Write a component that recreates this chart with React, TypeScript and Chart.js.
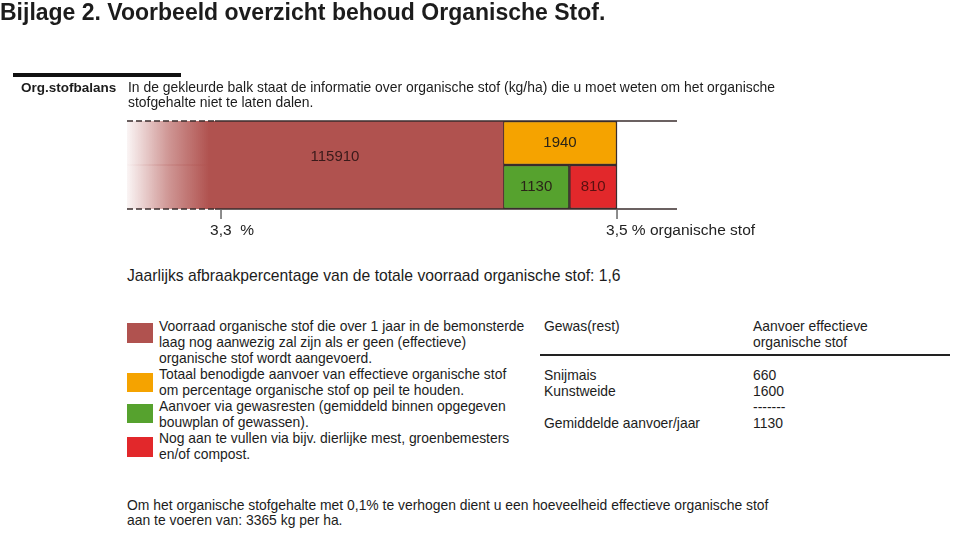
import React, { useEffect, useRef } from 'react';
import { Chart, registerables } from 'chart.js';

Chart.register(...registerables);

// ---- data ----
const rows = ['boven', 'onder'];
const voorraad = 115910; // kg/ha voorraad na 1 jaar
const benodigd = 1940; // totaal benodigde aanvoer
const gewasresten = 1130; // aanvoer via gewasresten
const aanvullen = 810; // nog aan te vullen
const percentTicks = [3.3, 3.5];
const tickLabels = ['3,3  %', '3,5 % organische stof'];
const afbraak = '1,6';
const gewassen = ['Snijmais', 'Kunstweide'];
const gewasAanvoer = [660, 1600];
const verhoging = 3365;

const legendTexts = [
  ['Voorraad organische stof die over 1 jaar in de bemonsterde', 'laag nog aanwezig zal zijn als er geen (effectieve)', 'organische stof wordt aangevoerd.'],
  ['Totaal benodigde aanvoer van effectieve organische stof', 'om percentage organische stof op peil te houden.'],
  ['Aanvoer via gewasresten (gemiddeld binnen opgegeven', 'bouwplan of gewassen).'],
  ['Nog aan te vullen via bijv. dierlijke mest, groenbemesters', 'en/of compost.'],
];

// ---- styling ----
const FONT = '"Liberation Sans", Arial, Helvetica, sans-serif';
const BROWN = '#b0524f';
const ORANGE = '#f5a300';
const GREEN = '#56a22e';
const RED = '#e2282b';
const EDGE = '#3a2c2c';
const legendColors = [BROWN, ORANGE, GREEN, RED];

const totaal = voorraad + benodigd; // = 3,5 %
const kgAt = (p: number) => (totaal * p) / percentTicks[1];
const X_MIN = 109517;
const X_MAX = 118870;

const overlay = {
  id: 'overlay',
  afterDatasetsDraw(chart: any) {
    const { ctx, chartArea: a, scales } = chart;
    const x = scales.x;
    const line = (x1: number, y1: number, x2: number, y2: number) => {
      ctx.beginPath();
      ctx.moveTo(x1, y1);
      ctx.lineTo(x2, y2);
      ctx.stroke();
    };
    ctx.save();
    // top / bottom edges, dashed where the stock fades out
    const dashEnd = a.left + 88;
    ctx.strokeStyle = EDGE;
    ctx.lineWidth = 1.6;
    [a.top, a.bottom].forEach((y: number) => {
      ctx.setLineDash([6, 3]);
      line(a.left, y, dashEnd, y);
      ctx.setLineDash([]);
      line(dashEnd, y, a.right, y);
    });
    // percentage ticks
    percentTicks.forEach((p, i) => {
      const px = x.getPixelForValue(kgAt(p));
      ctx.strokeStyle = '#666';
      ctx.lineWidth = 1.5;
      line(px, a.bottom, px, a.bottom + 10);
      ctx.fillStyle = '#222';
      ctx.font = `15.5px ${FONT}`;
      ctx.textAlign = 'left';
      ctx.textBaseline = 'middle';
      ctx.fillText(tickLabels[i], px - 11, a.bottom + 22);
    });
    // bar values
    ctx.font = `15px ${FONT}`;
    ctx.textAlign = 'center';
    ctx.textBaseline = 'middle';
    const metas = chart.getSortedVisibleDatasetMetas();
    metas.forEach((meta: any) => {
      const ds = chart.data.datasets[meta.index];
      if (meta.index === 0) {
        const e0 = meta.data[0];
        const e1 = meta.data[1];
        const cx = (a.left + 40 + e0.x) / 2;
        const cy = (e0.y + e1.y) / 2 - 8;
        ctx.fillStyle = '#3a1a1a';
        ctx.fillText(String(voorraad), cx, cy);
        return;
      }
      meta.data.forEach((el: any, i: number) => {
        const v = ds.data[i];
        if (!v) return;
        ctx.fillStyle = meta.index === 3 ? '#5a1010' : '#2a2418';
        ctx.fillText(String(v[1] - v[0]), (el.x + el.base) / 2, el.y);
      });
    });
    ctx.restore();
  },
};

function Txt(props: { left: number; top: number; size: number; lh: number; bold?: boolean; children: any }) {
  return (
    <div
      style={{
        position: 'absolute',
        left: props.left,
        top: props.top,
        fontSize: props.size,
        lineHeight: `${props.lh}px`,
        fontWeight: props.bold ? 'bold' : 'normal',
        whiteSpace: 'pre',
      }}
    >
      {props.children}
    </div>
  );
}

export default function App() {
  const ref = useRef<HTMLCanvasElement>(null);
  useEffect(() => {
    if (!ref.current) return;
    const chart = new Chart(ref.current, {
      type: 'bar',
      data: {
        labels: rows,
        datasets: [
          {
            label: 'Voorraad',
            data: [[0, voorraad], [0, voorraad]] as any,
            backgroundColor: (c: any) => {
              const area = c.chart.chartArea;
              if (!area) return BROWN;
              const g = c.chart.ctx.createLinearGradient(area.left, 0, area.left + 82, 0);
              g.addColorStop(0, 'rgba(176,82,79,0.06)');
              g.addColorStop(0.5, 'rgba(176,82,79,0.6)');
              g.addColorStop(1, BROWN);
              return g;
            },
            borderWidth: 0,
            clip: 0,
          } as any,
          {
            label: 'Benodigd',
            data: [[voorraad, voorraad + benodigd], null] as any,
            backgroundColor: ORANGE,
            borderColor: EDGE,
            borderWidth: 1.5,
            borderSkipped: false,
          },
          {
            label: 'Gewasresten',
            data: [null, [voorraad, voorraad + gewasresten]] as any,
            backgroundColor: GREEN,
            borderColor: EDGE,
            borderWidth: 1.5,
            borderSkipped: false,
          },
          {
            label: 'Aanvullen',
            data: [null, [voorraad + gewasresten, voorraad + gewasresten + aanvullen]] as any,
            backgroundColor: RED,
            borderColor: EDGE,
            borderWidth: 1.5,
            borderSkipped: false,
          },
        ],
      },
      options: {
        indexAxis: 'y',
        responsive: false,
        animation: false,
        layout: { padding: { left: 127, right: 282, top: 121, bottom: 41 } },
        datasets: { bar: { grouped: false, categoryPercentage: 1, barPercentage: 1 } } as any,
        scales: {
          x: { type: 'linear', min: X_MIN, max: X_MAX, display: false },
          y: { type: 'category', display: false },
        },
        plugins: { legend: { display: false }, tooltip: { enabled: false } },
      },
      plugins: [overlay],
    });
    return () => chart.destroy();
  }, []);

  const legendTops = [318, 366, 398, 430];
  const squareTops = [323, 373, 404, 437];
  const squareH = [20, 19, 19, 20];
  const fs = 13.9;

  return (
    <div
      style={{
        position: 'absolute',
        left: 0,
        top: 0,
        width: 959,
        height: 537,
        background: '#fff',
        fontFamily: FONT,
        color: '#1c1c1c',
        overflow: 'hidden',
      }}
    >
      <canvas ref={ref} width={959} height={250} style={{ position: 'absolute', left: 0, top: 0 }} />
      <Txt left={0} top={1} size={23} lh={22.5} bold>
        Bijlage 2. Voorbeeld overzicht behoud Organische Stof.
      </Txt>
      <div style={{ position: 'absolute', left: 13, top: 73, width: 168, height: 4, background: '#111' }} />
      <Txt left={21} top={80} size={13.5} lh={15} bold>
        Org.stofbalans
      </Txt>
      <Txt left={128} top={80} size={fs} lh={15}>
        {'In de gekleurde balk staat de informatie over organische stof (kg/ha) die u moet weten om het organische\nstofgehalte niet te laten dalen.'}
      </Txt>
      <Txt left={127} top={267} size={15.7} lh={18}>
        {`Jaarlijks afbraakpercentage van de totale voorraad organische stof: ${afbraak}`}
      </Txt>
      {legendTexts.map((lines, i) => (
        <React.Fragment key={i}>
          <div
            style={{
              position: 'absolute',
              left: 127,
              top: squareTops[i],
              width: 26,
              height: squareH[i],
              background: legendColors[i],
            }}
          />
          <Txt left={159} top={legendTops[i]} size={fs} lh={16}>
            {lines.join('\n')}
          </Txt>
        </React.Fragment>
      ))}
      <Txt left={544} top={318} size={fs} lh={16}>
        Gewas(rest)
      </Txt>
      <Txt left={753} top={318} size={fs} lh={16}>
        {'Aanvoer effectieve\norganische stof'}
      </Txt>
      <div style={{ position: 'absolute', left: 540, top: 354, width: 410, height: 2, background: '#222' }} />
      <Txt left={544} top={367} size={fs} lh={16}>
        {[...gewassen, '', 'Gemiddelde aanvoer/jaar'].join('\n')}
      </Txt>
      <Txt left={753} top={367} size={fs} lh={16}>
        {[...gewasAanvoer.map(String), '-------', String(gewasresten)].join('\n')}
      </Txt>
      <Txt left={127} top={498} size={fs} lh={15}>
        {`Om het organische stofgehalte met 0,1% te verhogen dient u een hoeveelheid effectieve organische stof\naan te voeren van: ${verhoging} kg per ha.`}
      </Txt>
    </div>
  );
}
